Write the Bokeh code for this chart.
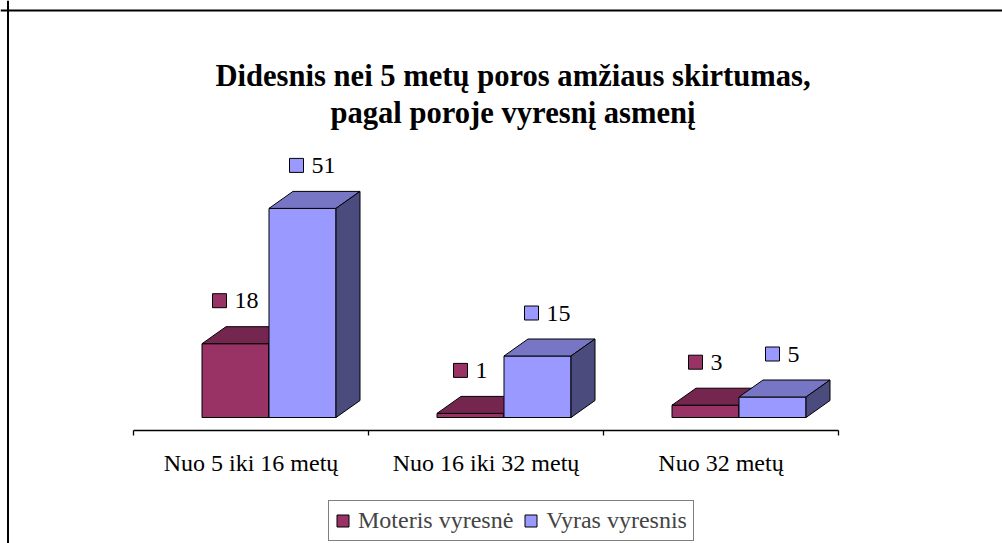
from bokeh.plotting import figure
from bokeh.models import Range1d, Span, Legend, LegendItem
from bokeh.core.properties import value
from bokeh.embed import file_html
from bokeh.resources import INLINE

# ---- data ----
categories = ["Nuo 5 iki 16 metų", "Nuo 16 iki 32 metų", "Nuo 32 metų"]
series_names = ["Moteris vyresnė", "Vyras vyresnis"]
moteris_vyresne = [18, 1, 3]
vyras_vyresnis = [51, 15, 5]
title_lines = ["Didesnis nei 5 metų poros amžiaus skirtumas,", "pagal poroje vyresnį asmenį"]

series_values = [moteris_vyresne, vyras_vyresnis]
front_colors = ["#993366", "#9999FF"]
top_colors = ["#74264F", "#7676C4"]
side_colors = ["#4F1A36", "#4B4B7D"]

# ---- layout (pixels) ----
W, H = 1002, 543
CAT_PX = 235.0       # width of one category
VAL_PX = 4.1         # pixels per unit
LEFT_PX = 133        # x of the first category boundary
ZERO_PX = 417        # y (from top) of value 0 on the bars' front plane
sx = 1.0 / CAT_PX
sy = 1.0 / VAL_PX
BAR_PX = 67
DEPTH_X, DEPTH_Y = 24, 17
SHIFT_X, SHIFT_Y = 18, 13   # bars' front plane relative to floor front

FONT = value("Liberation Serif")


def X(px):
    return (px - LEFT_PX) * sx


def Y(py):
    return (ZERO_PX - py) * sy


p = figure(width=W, height=H, output_backend="svg", toolbar_location=None,
           x_range=Range1d(X(0), X(W)), y_range=Range1d(Y(H), Y(0)),
           x_axis_type=None, y_axis_type=None, min_border=0,
           background_fill_color="white", border_fill_color="white")
p.grid.visible = False
p.outline_line_color = None

dx = DEPTH_X * sx
dy = DEPTH_Y * sy
bw = BAR_PX * sx

front_renderers = []
for s, vals in enumerate(series_values):
    lefts, rights = [], []
    top_xs, top_ys, side_xs, side_ys = [], [], [], []
    for i, v in enumerate(vals):
        c = i + 0.5
        l = c + SHIFT_X * sx - bw + s * bw
        r = l + bw
        lefts.append(l)
        rights.append(r)
        top_xs.append([l, r, r + dx, l + dx])
        top_ys.append([v, v, v + dy, v + dy])
        side_xs.append([r, r, r + dx, r + dx])
        side_ys.append([0, v, v + dy, dy])
    fr = p.quad(left=lefts, right=rights, bottom=[0] * len(vals), top=vals,
                fill_color=front_colors[s], line_color="black", line_width=1)
    p.patches(top_xs, top_ys, fill_color=top_colors[s], line_color="black", line_width=1)
    p.patches(side_xs, side_ys, fill_color=side_colors[s], line_color="black", line_width=1)
    front_renderers.append(fr)

# data labels: legend key square + value
label_shift = [-12, -2]
for s, vals in enumerate(series_values):
    sq_x, sq_y, txt = [], [], []
    for i, v in enumerate(vals):
        c = i + 0.5
        l = c + SHIFT_X * sx - bw + s * bw
        top_center = l + bw / 2 + dx / 2
        t = str(v)
        gw = 14 + 8 + 12 * len(t)
        sq_x.append(top_center + (-gw / 2 + 7 + label_shift[s]) * sx)
        sq_y.append(v + dy + 26 * sy)
        txt.append(t)
    p.rect(x=sq_x, y=sq_y, width=14, height=14, width_units="screen", height_units="screen",
           fill_color=front_colors[s], line_color="black", line_width=1)
    p.text(x=sq_x, y=sq_y, text=txt, x_offset=15, text_font=FONT, text_font_size="24px",
           text_align="left", text_baseline="middle", text_color="black")

# category axis line and ticks
axis_y = -SHIFT_Y * sy
p.segment(x0=[0], y0=[axis_y], x1=[len(categories)], y1=[axis_y], line_color="black", line_width=1.3)
bounds = list(range(len(categories) + 1))
p.segment(x0=bounds, y0=[axis_y] * len(bounds), x1=bounds, y1=[axis_y - 5 * sy] * len(bounds),
          line_color="black", line_width=1.3)
p.text(x=[i + 0.5 for i in range(len(categories))], y=[Y(462)] * len(categories), text=categories,
       text_font=FONT, text_font_size="24px", text_align="center", text_baseline="alphabetic",
       text_color="black")

# title
p.text(x=[X(512.5)] * 2, y=[Y(75), Y(112)], text=title_lines, text_font=FONT,
       text_font_size="30.6px", text_font_style="bold", text_align="center",
       text_baseline="alphabetic", text_color="black")

# chart-area border (top and left sides visible)
p.add_layout(Span(location=X(7.5), dimension="height", line_color="black", line_width=2))
p.add_layout(Span(location=Y(10), dimension="width", line_color="black", line_width=2))

legend = Legend(items=[LegendItem(label=series_names[s], renderers=[front_renderers[s]])
                       for s in range(len(series_names))],
                orientation="horizontal", location=(328, 2),
                label_text_font="Liberation Serif", label_text_font_size="24px",
                glyph_width=15, glyph_height=15, label_standoff=8, spacing=10,
                padding=6, margin=0, border_line_color="black", border_line_width=1,
                background_fill_color="white", background_fill_alpha=1.0)
p.add_layout(legend, "center")

open("out.html", "w").write(file_html(p, INLINE))
